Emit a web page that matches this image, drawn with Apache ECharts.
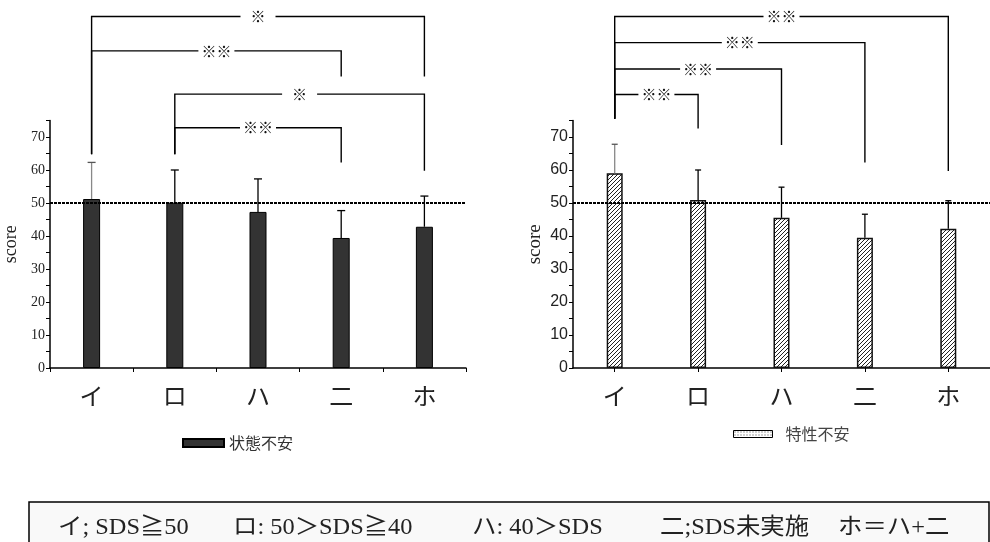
<!DOCTYPE html>
<html>
<head>
<meta charset="utf-8">
<script src="https://cdn.jsdelivr.net/npm/echarts@6/dist/echarts.min.js"></script>
<style>
html, body { margin: 0; background: #fff; }
#chart { width: 990px; height: 542px; }
</style>
</head>
<body>
<div id="chart"></div>
<script>
// カテゴリ
var categories = ['イ', 'ロ', 'ハ', '二', 'ホ']
// 状態不安 平均 / SD
var stateMean = [51.2, 50.1, 47.3, 39.4, 42.8]
var stateSD = [11.1, 9.9, 10.0, 8.3, 9.3]
// 特性不安 平均 / SD
var traitMean = [59.0, 50.9, 45.5, 39.5, 42.2]
var traitSD = [8.8, 9.1, 9.3, 7.1, 8.5]
var refLine = 50
// 有意差 [from, to, mark]
var stateSig = [[0, 4, '※'], [0, 3, '※※'], [1, 4, '※'], [1, 3, '※※']]
var traitSig = [[0, 4, '※※'], [0, 3, '※※'], [0, 2, '※※'], [0, 1, '※※']]
var noteTexts = ['イ; SDS≧50', 'ロ: 50＞SDS≧40', 'ハ: 40＞SDS', '二;SDS未実施', 'ホ＝ハ+二']

// bracket heights (score units): [level, left leg bottom, right leg bottom]
var stateBracketY = [[106.5, 64.8, 88.3], [96.1, 64.8, 88.3], [83.0, 64.8, 59.8], [72.8, 64.8, 62.3]]
var traitBracketY = [[106.5, 75.5, 59.7], [98.6, 75.5, 62.3], [90.6, 75.5, 67.6], [82.9, 75.5, 72.6]]
var noteX = [58, 233, 472, 660, 838]

var SERIF = "'Liberation Serif', 'Noto Sans CJK JP', serif"
var CJK = "'Noto Sans CJK JP', sans-serif"

function hatch () {
  var c = document.createElement('canvas')
  c.width = 4; c.height = 4
  var g = c.getContext('2d')
  g.fillStyle = '#fff'; g.fillRect(0, 0, 4, 4)
  g.strokeStyle = '#222'; g.lineWidth = 1
  g.beginPath()
  g.moveTo(-1, 5); g.lineTo(5, -1)
  g.moveTo(-1, 1); g.lineTo(1, -1)
  g.moveTo(3, 5); g.lineTo(5, 3)
  g.stroke()
  return c
}
function dots () {
  var c = document.createElement('canvas')
  c.width = 3; c.height = 3
  var g = c.getContext('2d')
  g.fillStyle = '#fff'; g.fillRect(0, 0, 3, 3)
  g.fillStyle = '#444'; g.fillRect(1, 1, 1, 1)
  return c
}

function errData (mean, sd) {
  return mean.map(function (m, i) { return [i, m, +(m + sd[i]).toFixed(1)] })
}

function errItem (capHalf) {
  return function (params, api) {
    var lo = api.coord([api.value(0), api.value(1)])
    var hi = api.coord([api.value(0), api.value(2)])
    var c = params.dataIndex === 0 ? '#888' : '#000'
    return {
      type: 'group',
      children: [
        { type: 'line', shape: { x1: lo[0], y1: lo[1], x2: hi[0], y2: hi[1] }, style: { stroke: c, lineWidth: 1.3 } },
        { type: 'line', shape: { x1: hi[0] - capHalf, y1: hi[1], x2: hi[0] + capHalf, y2: hi[1] }, style: { stroke: params.dataIndex === 0 ? '#555' : '#000', lineWidth: 1.3 } }
      ]
    }
  }
}

function bracketItem (sig, levels) {
  return function (params, api) {
    var i = params.dataIndex
    var a = sig[i][0], b = sig[i][1], L = levels[i]
    var p0 = api.coord([a, L[1]]), p1 = api.coord([a, L[0]])
    var p2 = api.coord([b, L[0]]), p3 = api.coord([b, L[2]])
    var mark = sig[i][2]
    return {
      type: 'group',
      children: [
        { type: 'polyline', shape: { points: [p0, p1, p2, p3] }, style: { stroke: '#000', lineWidth: 1.4, fill: null } },
        {
          type: 'text', x: (p1[0] + p2[0]) / 2, y: p1[1], z2: 10,
          style: {
            text: mark, fill: '#111', font: '15px ' + CJK, align: 'center', verticalAlign: 'middle',
            backgroundColor: '#fff', padding: [2, mark.length === 1 ? 10 : 3]
          }
        }
      ]
    }
  }
}

function yAxis (idx, labelFont, labelSize, nameGap, nameSize) {
  return {
    gridIndex: idx, type: 'value', min: 0, max: 75, interval: 10,
    name: 'score', nameLocation: 'middle', nameRotate: 90, nameGap: nameGap,
    nameTextStyle: { fontFamily: SERIF, fontSize: nameSize, color: '#222' },
    axisLine: { show: true, lineStyle: { color: '#000', width: 1.5 } },
    axisTick: { show: true, length: 4, lineStyle: { color: '#000' } },
    minorTick: { show: true, splitNumber: 2, length: 4, lineStyle: { color: '#000' } },
    splitLine: { show: false },
    axisLabel: { fontFamily: labelFont, fontSize: labelSize, color: '#222', margin: 5, showMaxLabel: false }
  }
}

function xAxis (idx, align) {
  return {
    gridIndex: idx, type: 'category', data: categories,
    axisLine: { lineStyle: { color: '#000', width: 1.5 } },
    axisTick: { show: true, interval: 0, length: 4, alignWithLabel: align, lineStyle: { color: '#000' } },
    axisLabel: { fontFamily: CJK, fontSize: 24, color: '#222', margin: 16, interval: 0 }
  }
}

var chart = echarts.init(document.getElementById('chart'))
var hatchPattern = { image: hatch(), repeat: 'repeat' }
var dotPattern = { image: dots(), repeat: 'repeat' }

var dashed = {
  silent: true, symbol: 'none',
  label: { show: false },
  lineStyle: { color: '#000', type: [3, 1], width: 2 },
  data: [{ yAxis: refLine }]
}

chart.setOption({
  animation: false,
  grid: [
    { left: 50, width: 416, top: 120.5, height: 247.5 },
    { left: 573, width: 447, top: 120.5, height: 247.5 }
  ],
  xAxis: [xAxis(0, false), xAxis(1, true)],
  yAxis: [
    yAxis(0, SERIF, 14, 30, 18),
    yAxis(1, "'Liberation Sans', Arial, sans-serif", 16, 28, 19)
  ],
  legend: [
    {
      data: ['状態不安'], left: 182, top: 435, padding: 0, icon: 'rect',
      itemWidth: 41, itemHeight: 8,
      textStyle: { fontFamily: CJK, fontSize: 16, color: '#333' }
    },
    {
      data: [{ name: '特性不安', itemStyle: { color: dotPattern, borderColor: '#000', borderWidth: 1 } }],
      left: 733, top: 426, padding: 0, icon: 'rect',
      itemWidth: 39, itemHeight: 7,
      textStyle: { fontFamily: CJK, fontSize: 16, color: '#444', padding: [0, 0, 0, 8] }
    }
  ],
  series: [
    {
      name: '状態不安', type: 'bar', xAxisIndex: 0, yAxisIndex: 0, barWidth: 17,
      data: stateMean,
      itemStyle: { color: '#333', borderColor: '#000', borderWidth: 1 },
      markLine: dashed
    },
    {
      name: '特性不安', type: 'bar', xAxisIndex: 1, yAxisIndex: 1, barWidth: 16,
      data: traitMean,
      itemStyle: { color: hatchPattern, borderColor: '#111', borderWidth: 1.5 },
      markLine: dashed
    },
    {
      type: 'custom', xAxisIndex: 0, yAxisIndex: 0, z: 3,
      renderItem: errItem(4), encode: { x: 0, y: [1, 2] },
      data: errData(stateMean, stateSD)
    },
    {
      type: 'custom', xAxisIndex: 1, yAxisIndex: 1, z: 3,
      renderItem: errItem(3), encode: { x: 0, y: [1, 2] },
      data: errData(traitMean, traitSD)
    },
    {
      type: 'custom', xAxisIndex: 0, yAxisIndex: 0, clip: false,
      renderItem: bracketItem(stateSig, stateBracketY), encode: { x: 0, y: 1 },
      data: stateSig.map(function (s) { return [s[0], 0] })
    },
    {
      type: 'custom', xAxisIndex: 1, yAxisIndex: 1, clip: false,
      renderItem: bracketItem(traitSig, traitBracketY), encode: { x: 0, y: 1 },
      data: traitSig.map(function (s) { return [s[0], 0] })
    }
  ],
  graphic: [
    {
      type: 'rect', shape: { x: 29, y: 502, width: 960, height: 50 },
      style: { fill: '#f9f9f9', stroke: '#000', lineWidth: 1.5 }
    }
  ].concat(noteTexts.map(function (t, i) {
    return {
      type: 'text', x: noteX[i], y: 528, scaleX: 1.06,
      style: { text: t, font: '23px ' + SERIF, fill: '#222', verticalAlign: 'middle' }
    }
  }))
})
</script>
</body>
</html>
